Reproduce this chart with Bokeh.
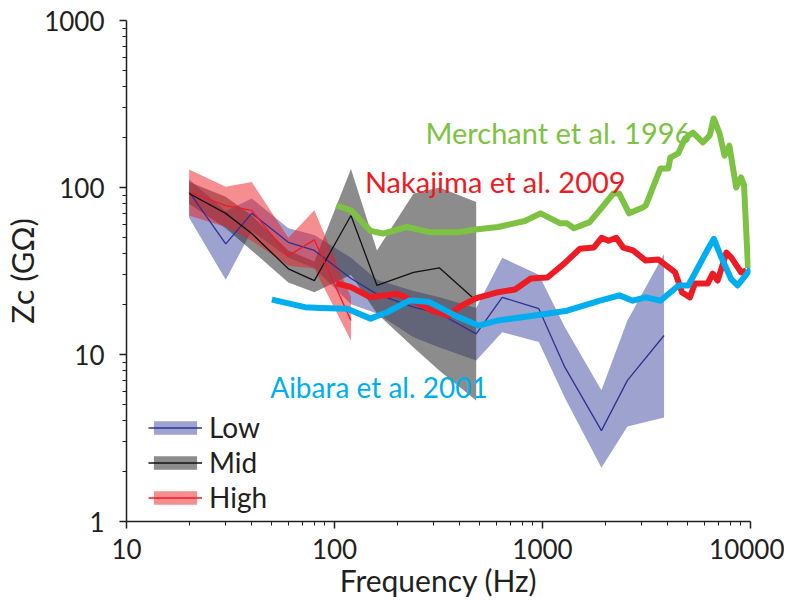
from bokeh.plotting import figure
from bokeh.models import FixedTicker, Label, Legend, LegendItem, NumeralTickFormatter
from bokeh.embed import file_html
from bokeh.resources import INLINE

# ---------------- data ----------------
freq_low = [20, 30, 40, 60, 80, 120, 160, 240, 320, 480, 640, 960, 1280, 1920, 2560, 3840]
low_mean = [94, 46, 70, 47, 42, 28.5, 23, 19.2, 17.6, 13.3, 22, 18.8, 8.4, 3.5, 7.0, 13]
low_upper = [112, 72, 86, 57, 52, 38, 28, 24, 22, 19, 38, 30, 14.6, 6.1, 16, 40]
low_lower = [66, 28, 55, 38, 33, 20, 17.6, 12.7, 11, 9.2, 13.6, 11.9, 5.5, 2.1, 3.7, 4.2]

freq_mid = [20, 30, 40, 60, 80, 120, 160, 240, 320, 480]
mid_mean = [92, 70, 53, 32.6, 27.7, 68, 25.9, 31, 33, 21]
mid_upper = [108, 88, 68, 42, 36, 129, 42, 92, 100, 82]
mid_lower = [80, 57, 42, 27, 23.6, 30, 17.6, 11, 8, 5.3]

freq_high = [20, 30, 40, 60, 80, 120]
high_mean = [94, 78, 73, 39, 48.6, 16]
high_upper = [128, 101, 108, 50, 73, 22]
high_lower = [68, 58, 48, 34, 32.7, 12.1]

merchant_f = [102, 120, 149, 171, 223, 286, 396, 477, 612, 822, 979, 1217, 1313, 1416, 1686,
              1880, 2188, 2337, 2608, 3036, 3135, 3690, 4027, 4117, 4490, 4849, 5290, 5900,
              6370, 6650, 7100, 7500, 7910, 8535, 9010, 9310, 9730]
merchant_z = [78, 73, 55, 53, 58, 54, 54, 56, 58, 63, 70, 61, 61, 57, 62,
              73, 92, 92, 70, 76, 78, 130, 130, 151, 160, 197, 213, 186,
              205, 259, 211, 155, 178, 100, 115, 103, 33]

nakajima_f = [102, 120, 149, 200, 238, 295, 355, 396, 477, 612, 738, 878, 1056, 1271, 1513,
              1763, 1923, 2075, 2263, 2443, 2725, 3135, 3612, 4345, 4690, 5115, 5405, 6225,
              6575, 6950, 7660, 8090, 9010, 9530]
nakajima_z = [26.7, 25.3, 22, 23.1, 21, 18.3, 17.1, 19.2, 21.7, 23.6, 24.5, 28.5, 28.9, 35, 43,
              43.7, 50, 48, 50, 43.7, 42, 36.5, 37, 31, 23.5, 22, 26.6, 26.6,
              30.5, 27.7, 40.8, 38, 31, 31.8]

aibara_f = [50, 72, 86, 115, 149, 179, 230, 286, 343, 396, 493, 612, 914, 1313, 1888, 2346,
            2715, 3135, 3690, 4510, 5025, 6250, 6670, 7230, 8055, 8665, 9310, 10000]
aibara_z = [21.3, 19.2, 19, 18.8, 16.4, 17.9, 21.1, 20.6, 18.3, 16.7, 14.9, 16, 17.1, 18.3, 21, 22.6,
            21, 22, 21, 25.9, 25.9, 43, 49.3, 38.3, 28.4, 25.9, 29, 32.6]

x_major_ticks = [10, 100, 1000, 10000]
x_minor_ticks = [20, 30, 40, 50, 60, 70, 80, 90, 200, 300, 400, 500, 600, 700, 800, 900,
                 2000, 3000, 4000, 5000, 6000, 7000, 8000, 9000]
y_major_ticks = [1, 10, 100, 1000]
y_minor_ticks = [2, 3, 4, 5, 6, 7, 8, 9, 20, 30, 40, 50, 60, 70, 80, 90,
                 200, 300, 400, 500, 600, 700, 800, 900]

FONT = "Lato"
INK = "#231f20"
GREEN = "#7dc242"
RED = "#ed1c24"
BLUE = "#00aeef"

p = figure(width=784, height=600, x_axis_type="log", y_axis_type="log",
           x_range=(10, 10000), y_range=(1, 1000),
           output_backend="svg", toolbar_location=None,
           min_border_left=122, min_border_right=34, min_border_top=20, min_border_bottom=79)
p.outline_line_color = None
p.grid.visible = False
p.background_fill_color = "white"

for ax, ticks, minor in ((p.xaxis, x_major_ticks, x_minor_ticks), (p.yaxis, y_major_ticks, y_minor_ticks)):
    ax.ticker = FixedTicker(ticks=ticks, minor_ticks=minor)
    ax.formatter = NumeralTickFormatter(format="0")
    ax.axis_line_color = INK
    ax.axis_line_width = 1.5
    ax.major_tick_line_color = INK
    ax.major_tick_line_width = 1.5
    ax.minor_tick_line_color = INK
    ax.major_tick_in = 0
    ax.major_tick_out = 7
    ax.minor_tick_in = 0
    ax.minor_tick_out = 4
    ax.major_label_text_font = FONT
    ax.major_label_text_font_size = "26px"
    ax.major_label_text_color = INK
    ax.axis_label_text_font = FONT
    ax.axis_label_text_font_style = "normal"
    ax.axis_label_text_color = INK
    ax.axis_label_standoff = 0

p.yaxis.major_label_standoff = 15
p.xaxis.major_label_standoff = 10
p.xaxis.axis_label = "Frequency (Hz)"
p.xaxis.axis_label_text_font_size = "30px"
p.yaxis.axis_label = "Zᴄ (GΩ)"
p.yaxis.axis_label_text_font_size = "31px"

# bands
low_band = p.varea(x=freq_low, y1=low_lower, y2=low_upper, fill_color="#3c46a0", fill_alpha=0.5)
mid_band = p.varea(x=freq_mid, y1=mid_lower, y2=mid_upper, fill_color="#353535", fill_alpha=0.57)
high_band = p.varea(x=freq_high, y1=high_lower, y2=high_upper, fill_color="#ed1c24", fill_alpha=0.5)

low_line = p.line(freq_low, low_mean, line_color="#2e3192", line_width=1.3)
mid_line = p.line(freq_mid, mid_mean, line_color="#111111", line_width=1.3)
high_line = p.line(freq_high, high_mean, line_color="#ed1c24", line_width=1.3)

p.line(merchant_f, merchant_z, line_color=GREEN, line_width=6, line_join="round")
p.line(nakajima_f, nakajima_z, line_color=RED, line_width=6, line_join="round")
p.line(aibara_f, aibara_z, line_color=BLUE, line_width=6, line_join="round")

# series labels
for txt, x, y, col, fs in (("Merchant et al. 1996", 274, 214, GREEN, "29px"),
                           ("Nakajima et al. 2009", 140, 109, RED, "29px"),
                           ("Aibara et al. 2001", 49.1, 6.43, BLUE, "28px")):
    p.add_layout(Label(x=x, y=y, text=txt, text_color=col, text_font=FONT,
                       text_font_size=fs, text_baseline="alphabetic", text_align="left"))

legend = Legend(items=[LegendItem(label="Low", renderers=[low_band, low_line]),
                       LegendItem(label="Mid", renderers=[mid_band, mid_line]),
                       LegendItem(label="High", renderers=[high_band, high_line])],
                location=(22, 7), glyph_width=54, glyph_height=17, label_standoff=7,
                label_text_font=FONT, label_text_font_size="28px", label_text_color=INK,
                spacing=1, padding=0, margin=0, border_line_color=None, background_fill_alpha=0)
p.add_layout(legend)

open("out.html", "w").write(file_html(p, INLINE))
